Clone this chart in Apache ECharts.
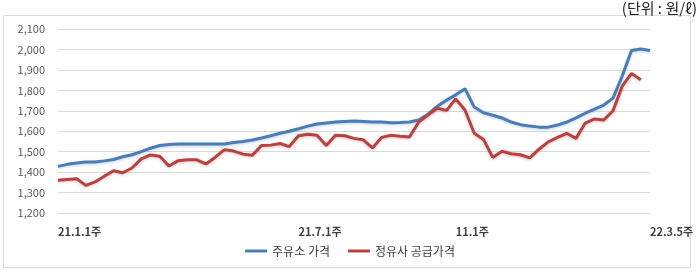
<!DOCTYPE html>
<html><head><meta charset="utf-8">
<script src="https://cdn.jsdelivr.net/npm/echarts@6/dist/echarts.min.js"></script>
<style>html,body{margin:0;padding:0;background:#fff}#c{width:700px;height:272px}</style>
</head><body><div id="c"></div>
<script>
const labelAt = [[0, '21.1.1주'], [26, '21.7.1주'], [43, '11.1주'], [64, '22.3.5주']];
const weekCount = 65;
const seriesNames = ['주유소 가격', '정유사 공급가격'];
const stationPrice = [
  1428, 1438, 1445, 1450, 1450, 1455, 1462, 1475, 1485, 1500,
  1517, 1530, 1535, 1537, 1537, 1537, 1537, 1537, 1538, 1545,
  1550, 1557, 1567, 1578, 1590, 1600, 1612, 1625, 1635, 1640,
  1645, 1648, 1650, 1648, 1645, 1645, 1642, 1643, 1645, 1655,
  1683, 1722, 1752, 1778, 1808, 1718, 1690, 1678, 1665, 1645,
  1632, 1625, 1620, 1620, 1630, 1645, 1665, 1688, 1708, 1728,
  1762, 1870, 1995, 2002, 1995
];
const refinerPrice = [
  1360, 1364, 1368, 1335, 1352, 1380, 1407, 1397, 1420, 1465,
  1484, 1478, 1430, 1456, 1461, 1460, 1440, 1473, 1510, 1503,
  1488, 1482, 1530, 1532, 1540, 1525, 1578, 1585, 1580, 1530,
  1580, 1578, 1565, 1558, 1518, 1570, 1580, 1575, 1572, 1645,
  1680, 1712, 1702, 1758, 1704, 1590, 1560, 1472, 1502, 1490,
  1485, 1470, 1512, 1548, 1570, 1590, 1565, 1640, 1660, 1655,
  1700, 1820, 1883, 1852, null
];
const yTicks = {min: 1200, max: 2100, step: 100};
const unitText = '(단위 : 원/ℓ)';

const categories = [];
for (let i = 0; i < weekCount; i++) categories.push('');
labelAt.forEach(([i, t]) => { categories[i] = t; });

const font = '"Noto Sans CJK KR", "Noto Sans", sans-serif';
const chart = echarts.init(document.getElementById('c'));
chart.setOption({
  animation: false,
  textStyle: {fontFamily: font},
  graphic: [
    {type: 'rect', shape: {x: 3.5, y: 15.5, width: 687, height: 252},
     style: {fill: 'none', stroke: '#d9d9d9', lineWidth: 1}, z: -1},
    {type: 'text', right: 3, top: 1,
     style: {text: unitText, font: '15px ' + font, fill: '#222'}}
  ],
  grid: {left: 58, right: 50, top: 29, bottom: 59},
  legend: {
    bottom: 10, left: 'center', itemGap: 18, itemWidth: 22, itemHeight: 3,
    icon: 'rect',
    textStyle: {fontSize: 12, color: '#404040', fontFamily: font},
    data: seriesNames
  },
  xAxis: {
    type: 'category', data: categories, boundaryGap: false,
    axisLine: {show: false}, axisTick: {show: false},
    axisLabel: {interval: 0, align: 'left', margin: 13, fontSize: 11, fontWeight: 'bold', color: '#404040'}
  },
  yAxis: {
    type: 'value', min: yTicks.min, max: yTicks.max, interval: yTicks.step,
    axisLine: {show: false}, axisTick: {show: false},
    axisLabel: {margin: 13, fontSize: 11, color: '#595959',
      formatter: v => v.toLocaleString('en-US')},
    splitLine: {lineStyle: {color: '#d9d9d9', width: 1}}
  },
  series: [
    {name: seriesNames[0], type: 'line', data: stationPrice, showSymbol: false,
     color: '#4A7DB8',
     lineStyle: {width: 3, color: '#4A7DB8', shadowColor: 'rgba(74,125,184,0.35)', shadowBlur: 3, shadowOffsetY: 1}},
    {name: seriesNames[1], type: 'line', data: refinerPrice, showSymbol: false,
     color: '#B8423F',
     lineStyle: {width: 3, color: '#B8423F', shadowColor: 'rgba(192,80,77,0.35)', shadowBlur: 3, shadowOffsetY: 1}}
  ]
});
</script></body></html>
